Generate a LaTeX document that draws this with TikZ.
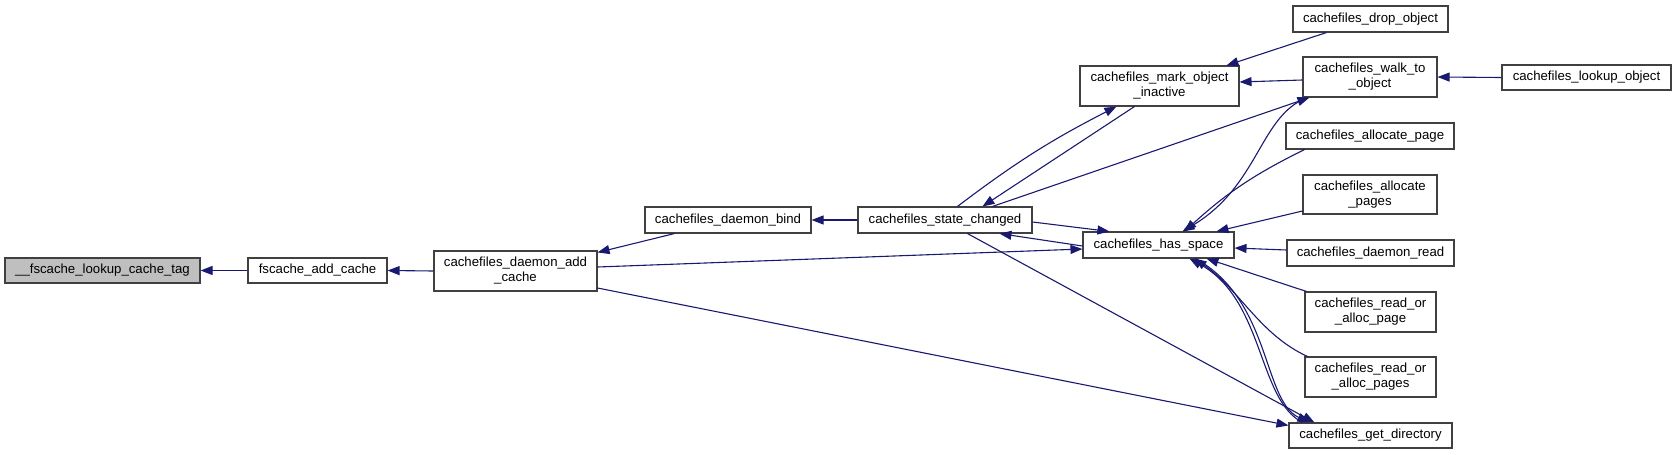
\documentclass[tikz,border=0pt]{standalone}
\usepackage{fontspec}
\setmainfont{Liberation Sans}
\usetikzlibrary{arrows.meta,calc}
\definecolor{edgecol}{RGB}{25,25,112}
\definecolor{boxline}{RGB}{64,64,64}
\definecolor{hilite}{RGB}{191,191,191}
\begin{document}
\begin{tikzpicture}[x=1pt,y=-1pt,
  fn/.style={draw=boxline,line width=1.1pt,fill=white,inner sep=0pt,align=center,
    font=\fontsize{13.2}{15}\selectfont},
  call/.style={draw=edgecol,line width=1.1pt,-{Triangle[length=12pt,width=9pt]}, color=edgecol}]
\useasboundingbox (0,0) rectangle (1676,455);
% nodes
\node[fn,fill=hilite,minimum width=195pt,minimum height=25pt] (tag) at (102.5,270.5) {\_\_fscache\_lookup\_cache\_tag};
\node[fn,minimum width=139pt,minimum height=25pt] (fadd) at (317.5,270.5) {fscache\_add\_cache};
\node[fn,minimum width=163pt,minimum height=40pt] (dadd) at (515.5,271) {cachefiles\_daemon\_add\\\_cache};
\node[fn,minimum width=166pt,minimum height=26pt] (bind) at (728,220) {cachefiles\_daemon\_bind};
\node[fn,minimum width=174pt,minimum height=26pt] (state) at (945,220) {cachefiles\_state\_changed};
\node[fn,minimum width=159pt,minimum height=40pt] (mark) at (1159.5,86) {cachefiles\_mark\_object\\\_inactive};
\node[fn,minimum width=151pt,minimum height=26pt] (has) at (1158.5,245) {cachefiles\_has\_space};
\node[fn,minimum width=155pt,minimum height=26pt] (drop) at (1370.5,19) {cachefiles\_drop\_object};
\node[fn,minimum width=134pt,minimum height=40pt] (walk) at (1370,77) {cachefiles\_walk\_to\\\_object};
\node[fn,minimum width=168pt,minimum height=26pt] (alloc1) at (1370,136) {cachefiles\_allocate\_page};
\node[fn,minimum width=134pt,minimum height=39pt] (allocs) at (1370,194.5) {cachefiles\_allocate\\\_pages};
\node[fn,minimum width=167pt,minimum height=26pt] (dread) at (1370.5,253) {cachefiles\_daemon\_read};
\node[fn,minimum width=131pt,minimum height=40pt] (rpage) at (1370.5,312) {cachefiles\_read\_or\\\_alloc\_page};
\node[fn,minimum width=131pt,minimum height=40pt] (rpages) at (1370.5,377) {cachefiles\_read\_or\\\_alloc\_pages};
\node[fn,minimum width=163pt,minimum height=25pt] (getdir) at (1370.5,435.5) {cachefiles\_get\_directory};
\node[fn,minimum width=169pt,minimum height=25pt] (lookup) at (1586.5,77.5) {cachefiles\_lookup\_object};
% edges
\draw[call] (fadd.west) -- (tag.east);
\draw[call] (dadd.west) -- (fadd.east);
\draw[call] ([xshift=30pt]bind.south west) -- ([yshift=-2pt]dadd.north east);
\draw[call] (state.west) -- (bind.east);
\draw[call] ([yshift=4pt]dadd.east) -- ([yshift=-4pt]has.west);
\draw[call] ([yshift=-17pt]dadd.east) -- ([yshift=-3pt]getdir.north west);
\draw[call] ([xshift=100pt]state.north west) to[bend left=5] ([xshift=37pt]mark.south west);
\draw[call] ([xshift=55pt]mark.south west) -- ([xshift=125pt]state.north west);
\draw[call] ([xshift=135pt]state.north west) -- ([xshift=7pt]walk.south west);
\draw[call] ([xshift=5pt]walk.south west) .. controls ($(walk.south west)+(-43,18)$) and ($(walk.south west)+(-43,88)$) .. ([xshift=100pt]has.north west);
\draw[call] ([xshift=19pt]alloc1.south west) to[bend right=8] ([xshift=102pt]has.north west);
\draw[call] ([yshift=-16.5pt]allocs.west) -- ([xshift=134pt]has.north west);
\draw[call] ([yshift=3pt]dread.west) -- ([yshift=-3pt]has.east);
\draw[call] ([xshift=2pt]rpage.north west) -- ([xshift=124pt]has.south west);
\draw[call] ([xshift=3pt]rpages.north west) .. controls ($(rpages.north west)+(-45,-22)$) and ($(rpages.north west)+(-65,-67)$) .. ([xshift=112pt]has.south west);
\draw[call] ([xshift=14pt]getdir.north west) .. controls ($(getdir.north west)+(-31,-23)$) and ($(getdir.north west)+(-24,-123)$) .. ([xshift=107pt]has.south west);
\draw[call] ([xshift=113pt]has.south west) .. controls ($(has.south west)+(189,42)$) and ($(has.south west)+(180,142)$) .. ([xshift=21pt]getdir.north west);
\draw[call] ([yshift=-2pt]state.east) -- ([xshift=27pt]has.north west);
\draw[call] ([yshift=-1pt]has.west) -- ([xshift=142pt]state.south west);
\draw[call] ([xshift=110pt]state.south west) -- ([xshift=26pt]getdir.north west);
\draw[call] ([yshift=-3pt]walk.west) -- ([yshift=4pt]mark.east);
\draw[call] ([xshift=34pt]drop.south west) -- ([xshift=147pt]mark.north west);
\draw[call] (lookup.west) -- (walk.east);
\end{tikzpicture}
\end{document}
